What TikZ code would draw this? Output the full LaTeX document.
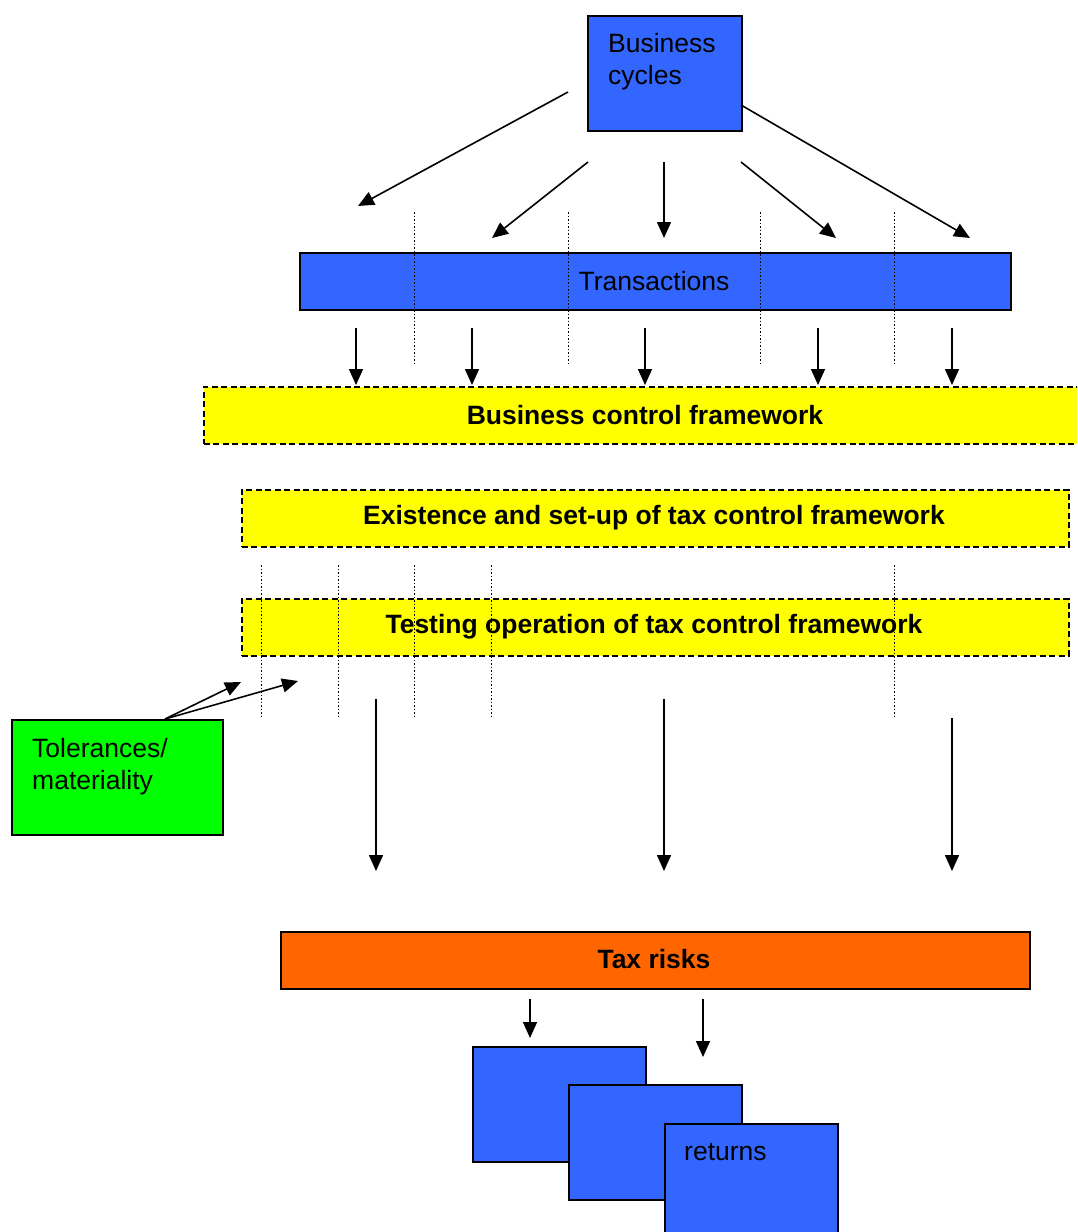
\documentclass[tikz,border=0pt]{standalone}
\usepackage{fontspec}
\setmainfont{Liberation Sans}
\usetikzlibrary{arrows.meta}
\definecolor{myblue}{HTML}{3366FF}
\definecolor{mygreen}{HTML}{00FF00}
\definecolor{myyellow}{HTML}{FFFF00}
\definecolor{myorange}{HTML}{FF6600}
\tikzset{
  box/.style={draw=black, line width=1.6pt, anchor=north west, inner sep=0pt},
  bluebox/.style={box, fill=myblue},
  ybox/.style={box, fill=myyellow, dash pattern=on 6pt off 3.5pt},
  txt/.style={font=\fontsize{26.5}{32}\selectfont, inner sep=0pt},
  btxt/.style={font=\fontsize{26.5}{32}\selectfont\bfseries, inner sep=0pt},
  arr/.style={-{Triangle[length=16pt,width=14pt]}, line width=1.6pt},
  dotline/.style={line width=1pt, dash pattern=on 1.5pt off 2pt},
}
\begin{document}
\begin{tikzpicture}[x=1pt,y=-1pt]
\useasboundingbox (0,0) rectangle (1077,1232);
\clip (0,0) rectangle (1077,1232);
% boxes
\node[bluebox, minimum width=154pt, minimum height=115pt] (bc) at (587,15) {};
\node[txt, anchor=north west, align=left] (bct) at (608,33) {Business\\cycles};
\node[bluebox, minimum width=711pt, minimum height=57pt] (tr) at (299,252) {};
\node[txt] (trt) at (654,281) {Transactions};
\node[ybox, minimum width=900pt, minimum height=57pt] (bcf) at (203,386) {};
\node[btxt] (bcft) at (645,415) {Business control framework};
\node[ybox, minimum width=827pt, minimum height=57pt] (ex) at (241,489) {};
\node[btxt] (ext) at (654,518) {Existence and set-up of tax control framework};
\node[ybox, minimum width=827pt, minimum height=57pt] (te) at (241,598) {};
\node[btxt] (tet) at (654,627) {Testing operation of tax control framework};
\node[box, fill=mygreen, minimum width=211pt, minimum height=115pt] (tol) at (11,719) {};
\node[txt, anchor=north west, align=left] (tolt) at (32,738) {Tolerances/\\materiality};
\node[box, fill=myorange, minimum width=749pt, minimum height=57pt] (tax) at (280,931) {};
\node[btxt] (taxt) at (654,959) {Tax risks};
\node[bluebox, minimum width=173pt, minimum height=115pt] (r1) at (472,1046) {};
\node[bluebox, minimum width=173pt, minimum height=115pt] (r2) at (568,1084) {};
\node[bluebox, minimum width=173pt, minimum height=125pt] (r3) at (664,1123) {};
\node[txt, anchor=base west] (r3t) at (684,1160) {returns};
% coordinates
\coordinate (a1s) at (568,92);  \coordinate (a1e) at (358,206);
\coordinate (a2s) at (588,162); \coordinate (a2e) at (492,238);
\coordinate (a3s) at (664,162); \coordinate (a3e) at (664,238);
\coordinate (a4s) at (741,162); \coordinate (a4e) at (836,238);
\coordinate (a5s) at (741,105); \coordinate (a5e) at (970,238);
\foreach \x [count=\i] in {356,472,645,818,952}{
  \coordinate (b\i s) at (\x,328); \coordinate (b\i e) at (\x,385);
}
\foreach \x [count=\i] in {414,568,760,894}{
  \coordinate (d\i s) at (\x,212); \coordinate (d\i e) at (\x,366);
}
\foreach \x [count=\i] in {261,338,414,491,894}{
  \coordinate (m\i s) at (\x,565); \coordinate (m\i e) at (\x,718);
}
\coordinate (c1s) at (376,699); \coordinate (c1e) at (376,871);
\coordinate (c2s) at (664,699); \coordinate (c2e) at (664,871);
\coordinate (c3s) at (952,718); \coordinate (c3e) at (952,871);
\coordinate (t0) at (165,719);
\coordinate (t1) at (241,682); \coordinate (t2) at (298,681);
\coordinate (e1s) at (530,999); \coordinate (e1e) at (530,1038);
\coordinate (e2s) at (703,999); \coordinate (e2e) at (703,1057);
% arrows
\foreach \i in {1,...,5}{ \draw[arr] (a\i s) -- (a\i e); }
\foreach \i in {1,...,5}{ \draw[arr] (b\i s) -- (b\i e); }
\foreach \i in {1,...,4}{ \draw[dotline] (d\i s) -- (d\i e); }
\foreach \i in {1,...,5}{ \draw[dotline] (m\i s) -- (m\i e); }
\foreach \i in {1,...,3}{ \draw[arr] (c\i s) -- (c\i e); }
\draw[arr] (t0) -- (t1);
\draw[arr] (t0) -- (t2);
\draw[arr] (e1s) -- (e1e);
\draw[arr] (e2s) -- (e2e);
\end{tikzpicture}
\end{document}
